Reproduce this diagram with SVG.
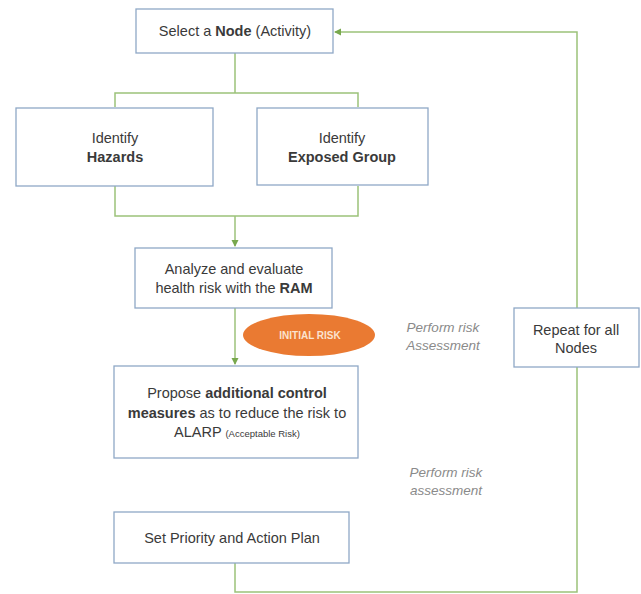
<svg xmlns="http://www.w3.org/2000/svg" width="641" height="594" viewBox="0 0 641 594">
<style>
.box{fill:#ffffff;stroke:#8fa8c6;stroke-width:1.3}
.t{font-family:"Liberation Sans",Arial,sans-serif;font-size:14.5px;fill:#3a3a3a;text-anchor:middle}
.b{font-weight:bold}
.c{fill:none;stroke:#9cc27a;stroke-width:1.5}
.i{font-family:"Liberation Sans",Arial,sans-serif;font-size:13.5px;font-style:italic;fill:#8a8a8a;text-anchor:middle}
</style>
<defs>
<marker id="ah" markerWidth="8" markerHeight="8" refX="6" refY="4" orient="auto" markerUnits="userSpaceOnUse">
<path d="M0,0.5 L7,4 L0,7.5 Z" fill="#78a84e"/>
</marker>
</defs>
<rect width="641" height="594" fill="#ffffff"/>
<g id="connectors">
<path class="c" d="M235,53 V93 M115,107 V93 H358 V107"/>
<path class="c" d="M115,186 V216 H358 V186"/>
<path class="c" d="M235,216 V246" marker-end="url(#ah)"/>
<path class="c" d="M235,308 V364" marker-end="url(#ah)"/>
<path class="c" d="M235,563 V592 H577 V367"/>
<path class="c" d="M577,308 V32 H335" marker-end="url(#ah)"/>
</g>
<g id="node-select">
<rect class="box" x="136" y="9" width="197" height="44"/>
<text class="t" x="235" y="36">Select a <tspan class="b">Node</tspan> (Activity)</text>
</g>
<g id="node-hazards">
<rect class="box" x="16" y="108" width="197" height="78"/>
<text class="t" x="115" y="143">Identify</text>
<text class="t b" x="115" y="162">Hazards</text>
</g>
<g id="node-exposed">
<rect class="box" x="257" y="108" width="171" height="77"/>
<text class="t" x="342" y="143">Identify</text>
<text class="t b" x="342" y="162">Exposed Group</text>
</g>
<g id="node-analyze">
<rect class="box" x="135" y="248" width="197" height="60"/>
<text class="t" x="234" y="274">Analyze and evaluate</text>
<text class="t" x="234" y="293">health risk with the <tspan class="b">RAM</tspan></text>
</g>
<g id="node-initial-risk">
<ellipse cx="309" cy="335" rx="66" ry="21" fill="#ea7a32"/>
<text class="t b" x="310" y="339" style="fill:#fbe3cf;font-size:10px">INITIAL RISK</text>
</g>
<g id="label-perform1">
<text class="i" x="443" y="332">Perform risk</text>
<text class="i" x="443" y="350">Assessment</text>
</g>
<g id="node-propose">
<rect class="box" x="114" y="366" width="244" height="92"/>
<text class="t" x="237" y="398">Propose <tspan class="b">additional control</tspan></text>
<text class="t" x="237" y="418"><tspan class="b">measures</tspan> as to reduce the risk to</text>
<text class="t" x="237" y="437">ALARP <tspan style="font-size:9.5px">(Acceptable Risk)</tspan></text>
</g>
<g id="label-perform2">
<text class="i" x="446" y="477">Perform risk</text>
<text class="i" x="446" y="495">assessment</text>
</g>
<g id="node-priority">
<rect class="box" x="114" y="512" width="235" height="51"/>
<text class="t" x="232" y="543">Set Priority and Action Plan</text>
</g>
<g id="node-repeat">
<rect class="box" x="514" y="308" width="125" height="59"/>
<text class="t" x="576" y="335">Repeat for all</text>
<text class="t" x="576" y="353">Nodes</text>
</g>
</svg>
